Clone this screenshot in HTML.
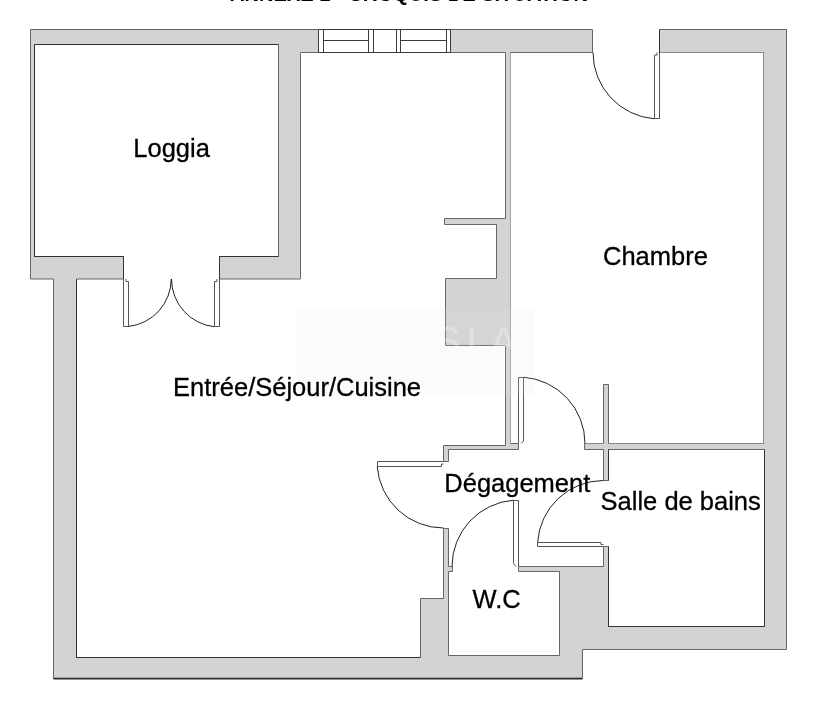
<!DOCTYPE html>
<html>
<head>
<meta charset="utf-8">
<style>
html,body{margin:0;padding:0;background:#fff;}
body{width:833px;height:706px;overflow:hidden;position:relative;}
svg{position:absolute;left:0;top:0;display:block;filter:grayscale(1);}
text{font-family:"Liberation Sans",sans-serif;fill:#000;}
</style>
</head>
<body>
<svg width="833" height="706" viewBox="0 0 833 706">
<rect x="0" y="0" width="833" height="706" fill="#fff"/>
<!-- title (cut off at top) -->
<text x="409" y="1.2" font-size="20.1" font-weight="bold" text-anchor="middle">ANNEXE 1 - CROQUIS DE SITUATION</text>

<g class="walls" fill="#d3d3d3" stroke="#666" stroke-width="1" stroke-linejoin="miter">
<!-- main outer shell piece -->
<path d="M318.5 29.5 L30.5 29.5 L30.5 279 L53.5 279 L53.5 678.5 L582.5 678.5 L582.5 649.5 L786.5 649.5 L786.5 29.5 L659.5 29.5 L659.5 52.5 L763.5 52.5 L763.5 443.5 L608.5 443.5 L608.5 384.5 L603.5 384.5 L603.5 443.5 L584.5 443.5 L584.5 449.5 L603.5 449.5 L603.5 480.5 L608.5 480.5 L608.5 449.5 L764.5 449.5 L764.5 626.5 L608.5 626.5 L608.5 546.5 L603.5 546.5 L603.5 566.5 L518.5 566.5 L518.5 571.5 L559.5 571.5 L559.5 655.5 L448.5 655.5 L448.5 571.5 L452.5 571.5 L452.5 566.5 L448.5 566.5 L448.5 528.5 L443.5 528.5 L443.5 598.5 L420.5 598.5 L420.5 657.5 L76.5 657.5 L76.5 279 L123.5 279 L123.5 256.5 L34.5 256.5 L34.5 44.5 L278.5 44.5 L278.5 256.5 L219.5 256.5 L219.5 279 L300.5 279 L300.5 52.5 L318.5 52.5 Z"/>
<!-- top middle piece with partition -->
<path d="M450.5 29.5 L592.5 29.5 L592.5 52.5 L510.5 52.5 L510.5 443.5 L518.5 443.5 L518.5 449.5 L448.5 449.5 L448.5 461.5 L443.5 461.5 L443.5 445.5 L505.5 445.5 L505.5 345.5 L445.5 345.5 L445.5 278.5 L496.5 278.5 L496.5 224.5 L444.5 224.5 L444.5 218.5 L505.5 218.5 L505.5 52.5 L450.5 52.5 Z"/>
</g>


<!-- lighter edges -->
<g fill="none" stroke-width="1">
<path d="M510.5 53 V443" stroke="#a3a3a3"/>
<path d="M660 52.5 H763.5 V443.5 H609 M603 443.5 H585" stroke="#8a8a8a"/>
</g>
<!-- darker edges -->
<g fill="none" stroke="#333" stroke-width="1">
<path d="M34.5 44.5 H278.5 M34.5 44.5 V256.5 H123.5 V326.5 M219.5 326.5 V256.5 H278.5"/>
<path d="M76.5 279 V657.5 H420.5"/>
<path d="M608.5 480.5 V449.5 M608.5 546.5 V626.5 H764.5 V449.5"/>
<path d="M659.5 29.5 V118.5"/>
</g>
<path d="M53.5 678.6 H582.5" stroke="#2a2a2a" stroke-width="1.6" fill="none"/>

<!-- window -->
<g fill="none" stroke="#3a3a3a" stroke-width="1">
<path d="M318.5 29.5 H450.5 M318.5 52.5 H450.5 M318.5 29.5 V52.5 M323.5 29.5 V52.5 M368.5 29.5 V52.5 M373.5 29.5 V52.5 M396.5 29.5 V52.5 M400.5 29.5 V52.5 M446.5 29.5 V52.5 M450.5 29.5 V52.5 M323.5 40.5 H368.5 M400.5 40.5 H446.5"/>
</g>

<!-- door leaves -->
<g fill="none" stroke="#555" stroke-width="1">
<path d="M123.5 279 V326.5 H128.5 V281.5 H126 V279"/>
<path d="M219.5 279 V326.5 H214.5 V281.5 H217 V279"/>
<path d="M659.5 52.5 V118.5 H654.5 V55 H657 V52.5"/>
<path d="M518.5 443.5 V377.5 H523.5 V441 L521 443.5"/>
<path d="M443.5 461.5 H377.5 V466.5 H441.5 V464 H443.5"/>
<path d="M518.5 566.5 V500.5 H513.5 V563.5 L516 566.5"/>
<path d="M603.5 546.5 H537.5 V542.5 H601 V544.5 H603.5"/>
</g>
<!-- door swings -->
<g fill="none" stroke="#222" stroke-width="1">
<path d="M171.20 279.00 A47.7 47.7 0 0 1 128.50 326.44"/>
<path d="M171.50 279.00 A48 48 0 0 0 214.50 326.74"/>
<path d="M593 52.5 A66.5 66.5 0 0 0 654.5 118.8"/>
<path d="M523.50 377.19 A66.5 66.5 0 0 1 585.00 443.50"/>
<path d="M377.19 466.50 A66.5 66.5 0 0 0 443.50 528.00"/>
<path d="M513.50 500.19 A66.5 66.5 0 0 0 452.00 566.50"/>
<path d="M537.62 542.50 A66 66 0 0 1 603.50 480.50"/>
</g>

<!-- watermark -->
<g class="wm">
<rect x="297" y="309" width="237.5" height="87" fill="#e6e6e6" fill-opacity="0.15"/>
<text x="306 343 389 434 466 490" y="355" font-size="40" style="fill:#fff;fill-opacity:0.3">KOESIA</text>
<text x="310" y="378" font-size="19" textLength="195" lengthAdjust="spacingAndGlyphs" style="fill:#fff;fill-opacity:0.6">l’immobilier revisité</text>
</g>

<!-- labels -->
<g class="lbl" font-size="25.5" style="stroke:#000;stroke-width:0.3">
<text x="133.3" y="156.6">Loggia</text>
<text x="173" y="396">Entrée/Séjour/Cuisine</text>
<text x="603" y="265.3">Chambre</text>
<text x="444.3" y="491.7">Dégagement</text>
<text x="600.6" y="509.8">Salle de bains</text>
<text x="472.5" y="608">W.C</text>
</g>
</svg>
</body>
</html>
